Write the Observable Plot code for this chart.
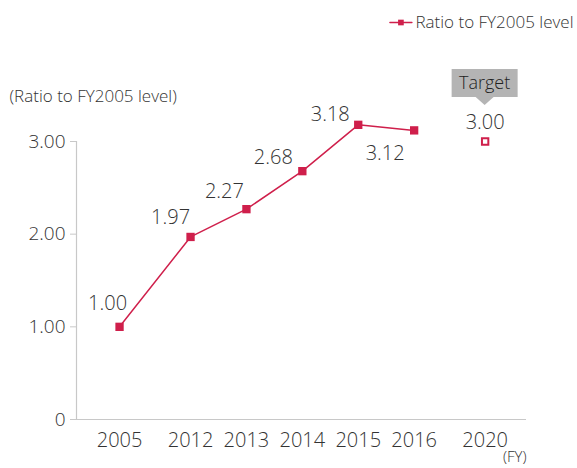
<!DOCTYPE html>
<html>
<head>
<meta charset="utf-8">
<script src="https://cdn.jsdelivr.net/npm/d3@7"></script>
<script src="https://cdn.jsdelivr.net/npm/@observablehq/plot@0.6"></script>
<style>
  html, body { margin: 0; padding: 0; background: #fff; }
  #chart svg { display: block; }
</style>
</head>
<body>
<div id="chart"></div>
<script>
// ---- data ----
const years = ["2005", "2012", "2013", "2014", "2015", "2016"];
const ratios = [1.00, 1.97, 2.27, 2.68, 3.18, 3.12];
const targetYear = "2020";
const targetValue = 3.00;
const yTicks = [0, 1, 2, 3];
const seriesName = "Ratio to FY2005 level";
const yLabel = "(Ratio to FY2005 level)";
const xUnit = "(FY)";
const targetLabel = "Target";

// ---- layout (not data) ----
const allYears = [...years, targetYear];
const slot = y => {
  const i = allYears.indexOf(y);
  if (i === 0) return 0;
  if (y === targetYear) return i + 0.54;
  return i + 0.27;
};
const labelOffsets = [[-12, -23], [-20, -19], [-22, -18], [-29, -14], [-28, -10], [-29, 23]];
const red = "#cf1f4b";
const textColor = "#333333";
const axisColor = "#c8c8c8";
const font = "'Open Sans', 'Noto Sans', sans-serif";
const W = 300;

const data = years.map((y, i) => ({year: y, value: ratios[i], i}));
const target = [{year: targetYear, value: targetValue}];

// custom mark: target callout box above the target point
function targetCallout(index, scales) {
  const cx = scales.x(slot(targetYear));
  const cy = scales.y(targetValue);
  const g = d3.create("svg:g");
  const w = 66, h = 28, top = cy - 72;
  g.append("rect").attr("x", cx - w / 2).attr("y", top).attr("width", w).attr("height", h).attr("fill", "#b4b4b4");
  g.append("path").attr("d", `M${cx - 9},${top + h} L${cx + 9},${top + h} L${cx},${top + h + 8} Z`).attr("fill", "#b4b4b4");
  g.append("text").attr("x", cx).attr("y", top + h / 2).attr("dy", "0.35em").attr("text-anchor", "middle")
    .attr("fill", "#222").attr("font-size", 18).attr("font-weight", W).attr("font-family", font).text(targetLabel);
  return g.node();
}

const labelMarks = data.map((d, k) => Plot.text([d], {
  x: d => slot(d.year), y: "value", text: d => d.value.toFixed(2),
  dx: labelOffsets[k][0], dy: labelOffsets[k][1], fontSize: 20, fontWeight: W, fill: textColor
}));

const chart = Plot.plot({
  width: 577,
  height: 468,
  marginTop: 141,
  marginBottom: 49,
  marginLeft: 76,
  marginRight: 51,
  style: {fontFamily: font, color: textColor, overflow: "visible"},
  x: {type: "linear", domain: [-0.77, 7.28]},
  y: {domain: [0, 3]},
  marks: [
    Plot.ruleX([-0.77], {y1: 0, y2: 3, stroke: axisColor, strokeWidth: 1.2}),
    Plot.ruleY([0], {stroke: axisColor, strokeWidth: 1.2}),
    Plot.axisY({ticks: yTicks, tickSize: 6, tickPadding: 5, stroke: axisColor, fontSize: 19, fontWeight: W, fill: textColor,
      tickFormat: d => d === 0 ? "0" : d.toFixed(2), label: null}),
    Plot.axisX({ticks: allYears.map(slot), tickSize: 0, tickPadding: 13, fontSize: 20, fontWeight: W, fill: textColor,
      tickFormat: v => allYears.find(y => Math.abs(slot(y) - v) < 1e-6), label: null}),
    Plot.line(data, {x: d => slot(d.year), y: "value", stroke: red, strokeWidth: 1.5}),
    Plot.dot(data, {x: d => slot(d.year), y: "value", symbol: "square", r: 4.7, fill: red, stroke: null}),
    Plot.dot(target, {x: d => slot(d.year), y: "value", symbol: "square", r: 3.6, fill: "white", stroke: red, strokeWidth: 2}),
    ...labelMarks,
    Plot.text(target, {x: d => slot(d.year), y: "value", text: d => d.value.toFixed(2), dy: -19, fontSize: 20, fontWeight: W, fill: textColor}),
    targetCallout,
    Plot.text([yLabel], {frameAnchor: "top-left", lineAnchor: "middle", dx: -67, dy: -45, textAnchor: "start", fontSize: 17, fontWeight: W, fill: textColor}),
    Plot.text([xUnit], {frameAnchor: "bottom-right", lineAnchor: "middle", dx: 0, dy: 38, textAnchor: "end", fontSize: 15, fontWeight: W, fill: textColor}),
    // legend
    Plot.line([0, 1], {x: d => -0.77 + (390 - 76 + d * 22) / 56, y: () => 3 + (141 - 22) / 92.67, stroke: red, strokeWidth: 1.5}),
    Plot.dot([0], {x: () => -0.77 + (401 - 76) / 56, y: () => 3 + (141 - 22) / 92.67, symbol: "square", r: 3.2, fill: red}),
    Plot.text([seriesName], {frameAnchor: "top-right", lineAnchor: "middle", dx: 47, dy: -119, textAnchor: "end", fontSize: 17, fontWeight: W, fill: textColor})
  ]
});
document.getElementById("chart").appendChild(chart);
</script>
</body>
</html>
